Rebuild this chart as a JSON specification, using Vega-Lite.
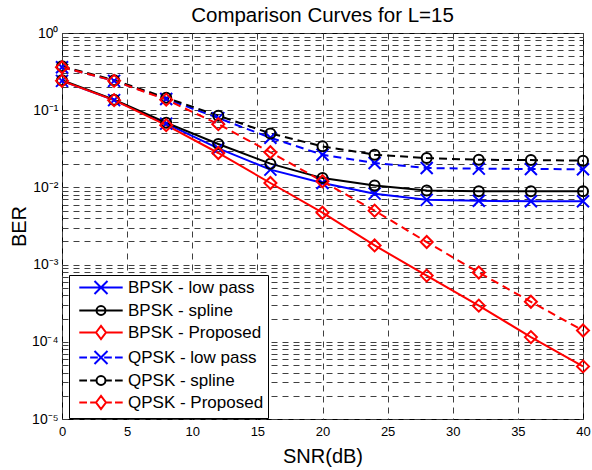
{
  "$schema": "https://vega.github.io/schema/vega-lite/v6.json",
  "width": 521,
  "height": 386,
  "autosize": {"type": "none"},
  "padding": {"left": 62, "top": 33, "right": 9, "bottom": 51},
  "background": "white",
  "title": {"text": "Comparison Curves for L=15", "fontSize": 20.5, "font": "Liberation Sans", "fontWeight": "normal", "color": "black", "baseline": "top", "offset": 0, "anchor": "middle"},
  "config": {
    "view": {"stroke": "black", "strokeWidth": 1},
    "font": "Liberation Sans",
    "axis": {"labelFont": "Liberation Sans", "titleFont": "Liberation Sans", "labelColor": "black", "titleColor": "black", "titleFontWeight": "normal", "gridColor": "#404040", "gridDash": [6, 5], "gridOpacity": 1, "gridWidth": 1, "ticks": false, "domain": false, "labelFlush": false, "labelOverlap": false},
    "legend": {"orient": "none", "legendX": 7, "legendY": 242, "title": null, "labelFont": "Liberation Sans", "labelFontSize": 17, "labelColor": "black", "symbolSize": 196, "symbolStrokeWidth": 2, "symbolOpacity": 1, "symbolFillColor": "transparent", "symbolOffset": 19.5, "labelOffset": 18.5, "rowPadding": 2, "padding": 4, "strokeColor": "black", "fillColor": "white", "cornerRadius": 0}
  },
  "data": {"values": [
    {"series": "BPSK - low pass", "snr": 0, "ber": 0.24}, {"series": "BPSK - low pass", "snr": 4, "ber": 0.135}, {"series": "BPSK - low pass", "snr": 8, "ber": 0.067}, {"series": "BPSK - low pass", "snr": 12, "ber": 0.032}, {"series": "BPSK - low pass", "snr": 16, "ber": 0.017}, {"series": "BPSK - low pass", "snr": 20, "ber": 0.0114}, {"series": "BPSK - low pass", "snr": 24, "ber": 0.0083}, {"series": "BPSK - low pass", "snr": 28, "ber": 0.0069}, {"series": "BPSK - low pass", "snr": 32, "ber": 0.0067}, {"series": "BPSK - low pass", "snr": 36, "ber": 0.0066}, {"series": "BPSK - low pass", "snr": 40, "ber": 0.0066},
    {"series": "BPSK - spline", "snr": 0, "ber": 0.245}, {"series": "BPSK - spline", "snr": 4, "ber": 0.137}, {"series": "BPSK - spline", "snr": 8, "ber": 0.069}, {"series": "BPSK - spline", "snr": 12, "ber": 0.0365}, {"series": "BPSK - spline", "snr": 16, "ber": 0.0203}, {"series": "BPSK - spline", "snr": 20, "ber": 0.0132}, {"series": "BPSK - spline", "snr": 24, "ber": 0.0106}, {"series": "BPSK - spline", "snr": 28, "ber": 0.0091}, {"series": "BPSK - spline", "snr": 32, "ber": 0.0089}, {"series": "BPSK - spline", "snr": 36, "ber": 0.0089}, {"series": "BPSK - spline", "snr": 40, "ber": 0.0089},
    {"series": "BPSK - Proposed", "snr": 0, "ber": 0.24}, {"series": "BPSK - Proposed", "snr": 4, "ber": 0.135}, {"series": "BPSK - Proposed", "snr": 8, "ber": 0.064}, {"series": "BPSK - Proposed", "snr": 12, "ber": 0.0279}, {"series": "BPSK - Proposed", "snr": 16, "ber": 0.0114}, {"series": "BPSK - Proposed", "snr": 20, "ber": 0.0047}, {"series": "BPSK - Proposed", "snr": 24, "ber": 0.00177}, {"series": "BPSK - Proposed", "snr": 28, "ber": 0.00072}, {"series": "BPSK - Proposed", "snr": 32, "ber": 0.000294}, {"series": "BPSK - Proposed", "snr": 36, "ber": 0.000115}, {"series": "BPSK - Proposed", "snr": 40, "ber": 0.000048},
    {"series": "QPSK - low pass", "snr": 0, "ber": 0.36}, {"series": "QPSK - low pass", "snr": 4, "ber": 0.24}, {"series": "QPSK - low pass", "snr": 8, "ber": 0.14}, {"series": "QPSK - low pass", "snr": 12, "ber": 0.079}, {"series": "QPSK - low pass", "snr": 16, "ber": 0.044}, {"series": "QPSK - low pass", "snr": 20, "ber": 0.0265}, {"series": "QPSK - low pass", "snr": 24, "ber": 0.0207}, {"series": "QPSK - low pass", "snr": 28, "ber": 0.0178}, {"series": "QPSK - low pass", "snr": 32, "ber": 0.0175}, {"series": "QPSK - low pass", "snr": 36, "ber": 0.0173}, {"series": "QPSK - low pass", "snr": 40, "ber": 0.0172},
    {"series": "QPSK - spline", "snr": 0, "ber": 0.37}, {"series": "QPSK - spline", "snr": 4, "ber": 0.245}, {"series": "QPSK - spline", "snr": 8, "ber": 0.145}, {"series": "QPSK - spline", "snr": 12, "ber": 0.085}, {"series": "QPSK - spline", "snr": 16, "ber": 0.05}, {"series": "QPSK - spline", "snr": 20, "ber": 0.034}, {"series": "QPSK - spline", "snr": 24, "ber": 0.0265}, {"series": "QPSK - spline", "snr": 28, "ber": 0.024}, {"series": "QPSK - spline", "snr": 32, "ber": 0.0228}, {"series": "QPSK - spline", "snr": 36, "ber": 0.0226}, {"series": "QPSK - spline", "snr": 40, "ber": 0.0222},
    {"series": "QPSK - Proposed", "snr": 0, "ber": 0.36}, {"series": "QPSK - Proposed", "snr": 4, "ber": 0.24}, {"series": "QPSK - Proposed", "snr": 8, "ber": 0.137}, {"series": "QPSK - Proposed", "snr": 12, "ber": 0.066}, {"series": "QPSK - Proposed", "snr": 16, "ber": 0.0285}, {"series": "QPSK - Proposed", "snr": 20, "ber": 0.012}, {"series": "QPSK - Proposed", "snr": 24, "ber": 0.005}, {"series": "QPSK - Proposed", "snr": 28, "ber": 0.00196}, {"series": "QPSK - Proposed", "snr": 32, "ber": 0.00079}, {"series": "QPSK - Proposed", "snr": 36, "ber": 0.00033}, {"series": "QPSK - Proposed", "snr": 40, "ber": 0.00014}
  ]},
  "encoding": {
    "x": {"field": "snr", "type": "quantitative", "scale": {"domain": [0, 40], "nice": false, "zero": false},
      "axis": {"values": [0, 5, 10, 15, 20, 25, 30, 35, 40], "grid": true, "labelFontSize": 13, "labelPadding": 6, "title": "SNR(dB)", "titleFontSize": 20, "titleY": 43, "titleBaseline": "alphabetic"}},
    "y": {"field": "ber", "type": "quantitative", "scale": {"type": "log", "domain": [0.00001, 1], "nice": false},
      "axis": {"values": [0.00001, 0.00002, 0.00003, 0.00004, 0.00005, 0.00006, 0.00007, 0.00008, 0.00009, 0.0001, 0.0002, 0.0003, 0.0004, 0.0005, 0.0006, 0.0007, 0.0008, 0.0009, 0.001, 0.002, 0.003, 0.004, 0.005, 0.006, 0.007, 0.008, 0.009, 0.01, 0.02, 0.03, 0.04, 0.05, 0.06, 0.07, 0.08, 0.09, 0.1, 0.2, 0.3, 0.4, 0.5, 0.6, 0.7, 0.8, 0.9, 1],
        "labelExpr": "abs(datum.value * pow(10, -round(log(datum.value)/LN10)) - 1) < 0.001 ? '10' + (round(log(datum.value)/LN10) < 0 ? '⁻' : '') + ['⁰','¹','²','³','⁴','⁵'][abs(round(log(datum.value)/LN10))] : ''",
        "grid": true, "labelFontSize": 14, "labelPadding": 4, "labelBaseline": "middle", "title": "BER", "titleFontSize": 20, "titleAngle": 270, "titleX": -37, "titleY": 193, "titleBaseline": "alphabetic", "titleAlign": "center"}},
    "color": {"field": "series", "type": "nominal",
      "scale": {"domain": ["BPSK - low pass", "BPSK - spline", "BPSK - Proposed", "QPSK - low pass", "QPSK - spline", "QPSK - Proposed"], "range": ["#0000ff", "#000000", "#ff0000", "#0000ff", "#000000", "#ff0000"]}}
  },
  "layer": [
    {"mark": {"type": "point", "filled": false, "opacity": 0, "size": 1},
      "encoding": {
        "shape": {"field": "series", "type": "nominal",
          "scale": {"domain": ["BPSK - low pass", "BPSK - spline", "BPSK - Proposed", "QPSK - low pass", "QPSK - spline", "QPSK - Proposed"],
            "range": ["M-3.1,0L3.1,0M-0.93,-0.93L0.93,0.93M-0.93,0.93L0.93,-0.93", "M-3.1,0L3.1,0M0.64,0A0.64,0.64,0,1,1,-0.64,0A0.64,0.64,0,1,1,0.64,0", "M-3.1,0L-0.71,0M0.71,0L3.1,0M-0.71,0L0,-0.93L0.71,0L0,0.93Z", "M-3.1,0L-2,0M-1.55,0L-0.45,0M0.45,0L1.55,0M2,0L3.1,0M-0.93,-0.93L0.93,0.93M-0.93,0.93L0.93,-0.93", "M-3.1,0L-2,0M-1.55,0L-0.64,0M0.64,0L1.55,0M2,0L3.1,0M0.64,0A0.64,0.64,0,1,1,-0.64,0A0.64,0.64,0,1,1,0.64,0", "M-3.1,0L-2,0M-1.55,0L-0.71,0M0.71,0L1.55,0M2,0L3.1,0M-0.71,0L0,-0.93L0.71,0L0,0.93Z"]}}
      }},
    {"transform": [{"filter": "indexof(datum.series, 'BPSK') >= 0"}],
      "mark": {"type": "line", "strokeWidth": 2}},
    {"transform": [{"filter": "indexof(datum.series, 'QPSK') >= 0"}],
      "mark": {"type": "line", "strokeWidth": 2, "strokeDash": [8, 5]}},
    {"transform": [{"filter": "indexof(datum.series, 'low pass') >= 0"}],
      "mark": {"type": "point", "filled": false, "strokeWidth": 2, "opacity": 1, "shape": "M-1,-1L1,1M-1,1L1,-1", "size": 144}},
    {"transform": [{"filter": "indexof(datum.series, 'spline') >= 0"}],
      "mark": {"type": "point", "filled": false, "strokeWidth": 2, "opacity": 1, "shape": "circle", "size": 100}},
    {"transform": [{"filter": "indexof(datum.series, 'Proposed') >= 0"}],
      "mark": {"type": "point", "filled": false, "strokeWidth": 2, "opacity": 1, "shape": "diamond", "size": 144}}
  ]
}
